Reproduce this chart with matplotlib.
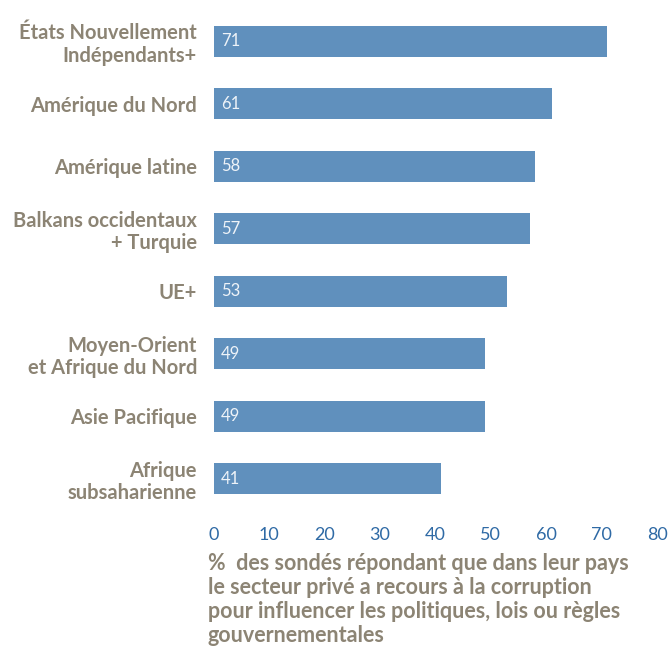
import matplotlib.pyplot as plt

regions = ["États Nouvellement\nIndépendants+", "Amérique du Nord", "Amérique latine",
           "Balkans occidentaux\n+ Turquie", "UE+", "Moyen-Orient\net Afrique du Nord",
           "Asie Pacifique", "Afrique\nsubsaharienne"]
values = [71, 61, 58, 57, 53, 49, 49, 41]
ticks = [0, 10, 20, 30, 40, 50, 60, 70, 80]
caption = ("%  des sondés répondant que dans leur pays\n"
           "le secteur privé a recours à la corruption\n"
           "pour influencer les politiques, lois ou règles\n"
           "gouvernementales")

bar_col = '#6090bd'
grey = '#8c8474'
blue = '#2f6aa5'

plt.rcParams['font.family'] = ['Lato', 'DejaVu Sans']

fig = plt.figure(figsize=(6.7, 6.5), dpi=100)
ax = fig.add_axes([208 / 670, 1 - 510 / 650, 452 / 670, 500 / 650])

y = list(range(len(values)))
ax.barh(y, values, height=0.5, color=bar_col)
for i, v in zip(y, values):
    ax.text(1.3, i, str(v), color='#eef3f8', fontsize=12, va='center', ha='left')

ax.set_yticks(y)
ax.set_yticklabels(regions, fontsize=14.5, fontweight='bold', color=grey, linespacing=1.15)
ax.set_ylim(len(values) - 0.5, -0.5)
ax.set_xlim(-1, 80.5)
ax.set_xticks(ticks)
ax.set_xticklabels([str(t) for t in ticks], fontsize=13, color=blue)
ax.tick_params(length=0, axis='y', pad=8)
ax.tick_params(length=0, axis='x', pad=12)
for s in ax.spines.values():
    s.set_visible(False)

fig.text(208 / 670, 1 - 553 / 650, caption, fontsize=15.5, fontweight='bold', color=grey,
         va='top', ha='left', linespacing=1.17)

fig.savefig('out.png', dpi=100)
